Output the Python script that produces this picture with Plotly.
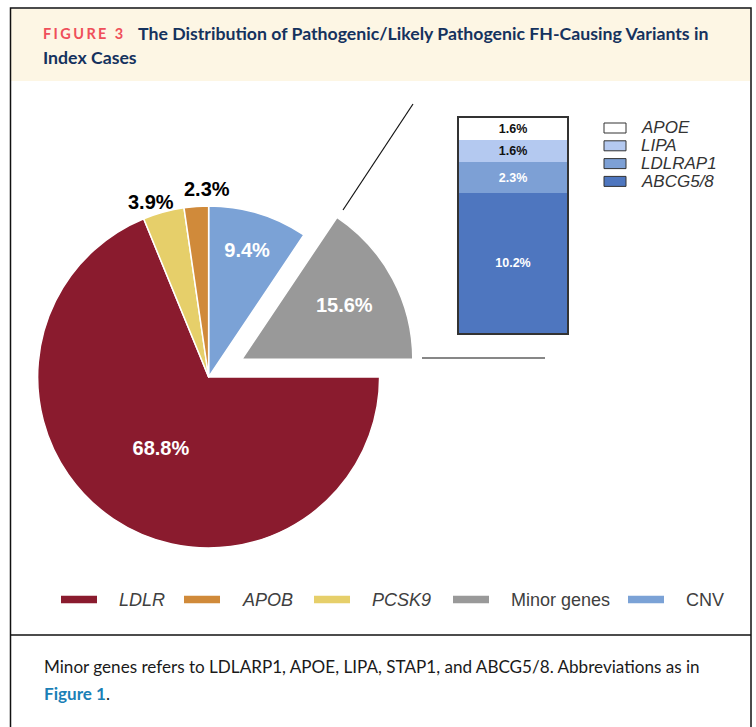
import math
import plotly.graph_objects as go

W, H = 756, 727

# ---------------- data ----------------
pie_labels = ["CNV", "Minor genes", "LDLR", "PCSK9", "APOB"]
pie_values = [9.4, 15.6, 68.8, 3.9, 2.3]
pie_colors = ["#7BA2D6", "#999999", "#8A1B2E", "#E6CF6A", "#D08A3A"]
pie_pull = [0, 0.22, 0, 0, 0]
pie_label_inside = [True, True, True, False, False]

legend_order = ["LDLR", "APOB", "PCSK9", "Minor genes", "CNV"]
legend_italic = [True, True, True, False, False]

minor_labels = ["ABCG5/8", "LDLRAP1", "LIPA", "APOE"]
minor_values = [10.2, 2.3, 1.6, 1.6]
minor_colors = ["#4E76BF", "#7DA0D5", "#B4C9F0", "#FFFFFF"]
minor_text_colors = ["#FFFFFF", "#FFFFFF", "#111111", "#111111"]

title_tag = "FIGURE 3"
title_line1 = "The Distribution of Pathogenic/Likely Pathogenic FH-Causing Variants in"
title_line2 = "Index Cases"
caption_line1 = "Minor genes refers to LDLARP1, APOE, LIPA, STAP1, and ABCG5/8. Abbreviations as in"
caption_link = "Figure 1"


def px(x):
    return min(max(x / W, 0.0), 1.0)


def py(y):
    return 1 - y / H


ARIAL = "Liberation Sans, Arial, sans-serif"
NARROW = "Lato, Liberation Sans, sans-serif"
CAPTION = "Lato, Liberation Sans, sans-serif"

fig = go.Figure()

# ---------------- pie ----------------
pie_r = 171
half = pie_r * (1 + max(pie_pull))
pie_cx, pie_cy = max(208.5, half + 0.01), 377
fig.add_trace(go.Pie(
    labels=pie_labels, values=pie_values, sort=False, direction="clockwise",
    rotation=0, pull=pie_pull,
    marker=dict(colors=pie_colors, line=dict(color="white", width=1.5)),
    texttemplate="%{value:.1f}%",
    textposition=["inside" if ins else "none" for ins in pie_label_inside],
    insidetextorientation="horizontal",
    insidetextfont=dict(color="white", size=20, family=ARIAL, weight="bold"),
    domain=dict(x=[px(pie_cx - half), px(pie_cx + half)],
                y=[py(pie_cy + half), py(pie_cy - half)]),
    showlegend=False, hoverinfo="skip", automargin=False,
))

# ---------------- stacked bar of minor genes ----------------
for lab, val, col, tcol in zip(minor_labels, minor_values, minor_colors, minor_text_colors):
    fig.add_trace(go.Bar(
        x=[0], y=[val], name=lab, width=1,
        marker=dict(color=col, line=dict(width=0)),
        texttemplate="%{y:.1f}%", textposition="inside", insidetextanchor="middle",
        textangle=0, constraintext="none",
        textfont=dict(color=tcol, size=12.5, family=ARIAL, weight="bold"),
        showlegend=False, hoverinfo="skip",
    ))

total_minor = sum(minor_values)
fig.update_layout(
    barmode="stack",
    xaxis=dict(domain=[px(459), px(567)], range=[-0.5, 0.5], showticklabels=False,
               ticks="", showgrid=False, zeroline=False, showline=True, mirror=True,
               linecolor="#333333", linewidth=1.5, fixedrange=True),
    yaxis=dict(domain=[py(333), py(118)], range=[0, total_minor], showticklabels=False,
               ticks="", showgrid=False, zeroline=False, showline=True, mirror=True,
               linecolor="#333333", linewidth=1.5, fixedrange=True),
)

shapes = []
annotations = []

# outside labels of the small pie slices, placed along their mid-angles
label_gap = 14
label_nudge = {"PCSK9": (-9, 3), "APOB": (12, -3)}
total_pie = sum(pie_values)
cum = 0.0
for lab, val, ins in zip(pie_labels, pie_values, pie_label_inside):
    mid = (cum + val / 2) / total_pie * 2 * math.pi
    cum += val
    if ins:
        continue
    rl = pie_r + label_gap
    dx, dy = label_nudge.get(lab, (0, 0))
    lx = pie_cx + rl * math.sin(mid) + dx
    ly = pie_cy - rl * math.cos(mid) + dy
    annotations.append(dict(xref="paper", yref="paper", x=px(lx), y=py(ly),
                            text=f"{val:.1f}%", showarrow=False,
                            xanchor="center", yanchor="middle",
                            font=dict(size=20, color="black", family=ARIAL, weight="bold")))

# frame, header band, separator
shapes.append(dict(type="rect", xref="paper", yref="paper", x0=px(11), x1=px(750),
                   y0=py(81), y1=py(9), fillcolor="#FDF6E4", line=dict(width=0), layer="below"))
shapes.append(dict(type="rect", xref="paper", yref="paper", x0=px(10.5), x1=px(751),
                   y0=py(760), y1=py(8), line=dict(color="#111111", width=1.5)))
shapes.append(dict(type="line", xref="paper", yref="paper", x0=px(10.5), x1=px(751),
                   y0=py(635), y1=py(635), line=dict(color="#111111", width=1.5)))

# connector lines
shapes.append(dict(type="line", xref="paper", yref="paper", x0=px(413), y0=py(104),
                   x1=px(343), y1=py(210), line=dict(color="#111111", width=1.2)))
shapes.append(dict(type="line", xref="paper", yref="paper", x0=px(422), y0=py(358),
                   x1=px(545), y1=py(358), line=dict(color="#111111", width=1.2)))

# legend for the stacked bar (top row = top segment)
bar_leg_y0, bar_leg_dy = 128, 17.8
for i, (lab, col) in enumerate(zip(minor_labels[::-1], minor_colors[::-1])):
    yc = bar_leg_y0 + i * bar_leg_dy
    shapes.append(dict(type="rect", xref="paper", yref="paper", x0=px(604), x1=px(626),
                       y0=py(yc + 5), y1=py(yc - 5), fillcolor=col,
                       line=dict(color="#333333", width=1)))
    annotations.append(dict(xref="paper", yref="paper", x=px(639), y=py(yc), text=f"<i>{lab}</i>",
                            showarrow=False, xanchor="left", yanchor="middle",
                            font=dict(size=17, color="#333333", family=ARIAL)))

# main legend at bottom
color_of = dict(zip(pie_labels, pie_colors))
leg_x = [61, 184, 314, 453, 628]
leg_y = 599.5
for lab, ital, x0 in zip(legend_order, legend_italic, leg_x):
    shapes.append(dict(type="rect", xref="paper", yref="paper", x0=px(x0), x1=px(x0 + 36),
                       y0=py(leg_y + 3.8), y1=py(leg_y - 3.8), fillcolor=color_of[lab],
                       line=dict(width=0)))
    annotations.append(dict(xref="paper", yref="paper", x=px(x0 + 56), y=py(leg_y),
                            text=f"<i>{lab}</i>" if ital else lab,
                            showarrow=False, xanchor="left", yanchor="middle",
                            font=dict(size=18, color="#404040", family=ARIAL)))

# title
annotations.append(dict(xref="paper", yref="paper", x=px(41), y=py(33),
                        text=f'<span style="letter-spacing:2.4px">{title_tag}</span>',
                        showarrow=False, xanchor="left", yanchor="middle",
                        font=dict(size=14.5, color="#EF4F5A", family=NARROW, weight="bold")))
annotations.append(dict(xref="paper", yref="paper", x=px(136), y=py(33), text=title_line1,
                        showarrow=False, xanchor="left", yanchor="middle",
                        font=dict(size=17.7, color="#15325E", family=NARROW, weight="bold")))
annotations.append(dict(xref="paper", yref="paper", x=px(41), y=py(58), text=title_line2,
                        showarrow=False, xanchor="left", yanchor="middle",
                        font=dict(size=17.7, color="#15325E", family=NARROW, weight="bold")))

# caption
annotations.append(dict(xref="paper", yref="paper", x=px(42), y=py(666), text=caption_line1,
                        showarrow=False, xanchor="left", yanchor="middle",
                        font=dict(size=17.1, color="#1A1A1A", family=CAPTION)))
annotations.append(dict(xref="paper", yref="paper", x=px(42), y=py(693),
                        text=f'<span style="color:#1A80B6"><b>{caption_link}</b></span>.',
                        showarrow=False, xanchor="left", yanchor="middle",
                        font=dict(size=17.1, color="#1A1A1A", family=CAPTION)))

fig.update_layout(
    width=W, height=H, margin=dict(l=0, r=0, t=0, b=0),
    paper_bgcolor="white", plot_bgcolor="rgba(0,0,0,0)",
    shapes=shapes, annotations=annotations, showlegend=False,
)

# the page's default 8px body margin would shift the figure; remove it
fig.write_html("out.html", config={"displayModeBar": False},
               post_script="document.body.style.margin='0px';")
